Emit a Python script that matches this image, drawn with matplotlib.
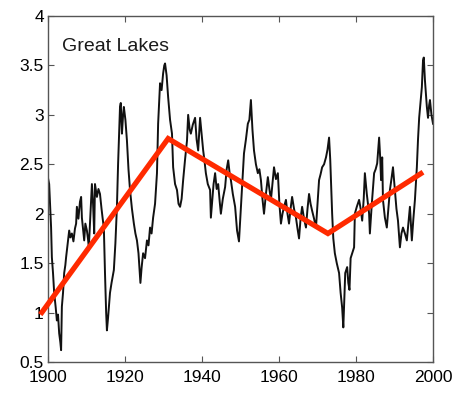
import numpy as np
import matplotlib
matplotlib.use("Agg")
import matplotlib.pyplot as plt

# Great Lakes index, read by year
years = [1900.0, 1900.3, 1900.6, 1900.8, 1901.0, 1901.3, 1901.6, 1902.0, 1902.3, 1902.6,
         1902.9, 1903.2, 1903.4, 1903.6, 1903.9, 1904.2, 1904.5, 1904.7, 1905.1, 1905.5,
         1905.8, 1906.2, 1906.6, 1907.0, 1907.3, 1907.5, 1907.9, 1908.3, 1908.6, 1908.8,
         1909.1, 1909.4, 1909.7, 1910.1, 1910.4, 1910.6, 1911.0, 1911.4, 1911.7, 1912.0,
         1912.2, 1912.5, 1912.7, 1913.1, 1913.5, 1913.9, 1914.2, 1914.5, 1914.8, 1915.1,
         1915.3, 1915.6, 1916.1, 1916.5, 1917.1, 1917.5, 1917.9, 1918.2, 1918.4, 1918.7,
         1918.9, 1919.2, 1919.5, 1919.7, 1920.1, 1920.5, 1920.9, 1921.3, 1921.8, 1922.3,
         1922.7, 1923.1, 1923.5, 1924.0, 1924.3, 1924.7, 1925.2, 1925.7, 1926.1, 1926.5,
         1926.9, 1927.3, 1927.8, 1928.3, 1928.6, 1929.1, 1929.5, 1929.9, 1930.2, 1930.4,
         1930.8, 1931.2, 1931.7, 1932.2, 1932.5, 1933.0, 1933.5, 1933.9, 1934.3, 1934.7,
         1935.1, 1935.6, 1936.1, 1936.4, 1936.8, 1937.1, 1937.6, 1938.2, 1938.6, 1939.0,
         1939.5, 1939.9, 1940.3, 1940.6, 1941.0, 1941.5, 1942.1, 1942.3, 1942.7, 1943.0,
         1943.4, 1943.8, 1944.2, 1944.6, 1944.9, 1945.4, 1946.0, 1946.4, 1946.8, 1947.2,
         1947.5, 1948.0, 1948.6, 1949.1, 1949.6, 1950.1, 1950.5, 1950.9, 1951.4, 1951.9,
         1952.3, 1952.7, 1953.1, 1953.5, 1954.0, 1954.5, 1954.9, 1955.3, 1955.7, 1956.1,
         1956.6, 1957.1, 1957.5, 1957.9, 1958.3, 1958.7, 1959.2, 1959.7, 1960.1, 1960.5,
         1960.9, 1961.3, 1961.8, 1962.2, 1962.6, 1963.0, 1963.4, 1963.9, 1964.4, 1964.8,
         1965.2, 1965.6, 1966.0, 1966.5, 1967.0, 1967.4, 1967.8, 1968.2, 1968.6, 1969.1,
         1969.6, 1970.0, 1970.4, 1970.8, 1971.2, 1971.7, 1972.2, 1972.6, 1973.0, 1973.3,
         1973.5, 1973.8, 1974.1, 1974.5, 1975.0, 1975.6, 1976.0, 1976.4, 1976.7, 1977.0,
         1977.2, 1977.7, 1978.0, 1978.3, 1978.6, 1979.0, 1979.5, 1979.7, 1980.2, 1980.8,
         1981.2, 1981.6, 1982.0, 1982.3, 1982.8, 1983.4, 1983.6, 1984.1, 1984.7, 1985.1,
         1985.5, 1986.0, 1986.3, 1986.5, 1986.8, 1987.0, 1987.5, 1988.0, 1988.4, 1988.8,
         1989.2, 1989.6, 1990.1, 1990.5, 1990.9, 1991.4, 1991.8, 1992.2, 1992.7, 1993.2,
         1993.6, 1994.0, 1994.5, 1994.9, 1995.3, 1995.8, 1996.1, 1996.4, 1996.8, 1997.1,
         1997.4, 1997.6, 1997.9, 1998.4, 1998.7, 1999.0, 1999.2, 1999.6, 2000.0]
index = [2.36, 2.30, 2.05, 1.86, 1.56, 1.40, 1.20, 1.05, 0.92, 0.98,
         0.79, 0.70, 0.62, 1.06, 1.20, 1.40, 1.48, 1.56, 1.70, 1.83,
         1.76, 1.80, 1.72, 1.85, 1.90, 2.07, 1.95, 2.12, 2.17, 1.96,
         1.85, 1.73, 1.90, 1.83, 1.74, 1.66, 1.98, 2.30, 2.10, 1.80,
         2.30, 2.22, 2.17, 2.25, 2.20, 2.05, 1.95, 1.86, 1.40, 1.00,
         0.82, 0.95, 1.20, 1.30, 1.43, 1.70, 2.07, 2.50, 2.74, 3.08,
         3.12, 2.81, 3.00, 3.08, 2.95, 2.74, 2.45, 2.24, 2.05, 1.90,
         1.80, 1.73, 1.60, 1.30, 1.45, 1.60, 1.55, 1.73, 1.68, 1.86,
         1.80, 1.96, 2.10, 2.41, 2.91, 3.32, 3.25, 3.42, 3.50, 3.52,
         3.40, 3.18, 2.95, 2.81, 2.47, 2.30, 2.24, 2.10, 2.07, 2.15,
         2.34, 2.55, 2.74, 3.00, 2.85, 2.81, 2.90, 2.97, 2.75, 2.64,
         2.97, 2.80, 2.64, 2.55, 2.41, 2.30, 2.24, 1.96, 2.15, 2.30,
         2.41, 2.25, 2.30, 2.12, 2.00, 2.15, 2.27, 2.45, 2.54, 2.40,
         2.34, 2.20, 2.07, 1.83, 1.72, 2.07, 2.35, 2.61, 2.75, 2.91,
         2.95, 3.15, 2.85, 2.64, 2.50, 2.41, 2.45, 2.34, 2.15, 2.00,
         2.20, 2.37, 2.25, 2.14, 2.30, 2.47, 2.35, 2.41, 2.10, 1.90,
         2.00, 2.07, 2.14, 2.00, 1.90, 2.05, 2.17, 2.05, 1.96, 1.85,
         1.75, 1.95, 2.07, 1.95, 1.86, 2.05, 2.20, 2.10, 2.03, 1.95,
         1.86, 2.10, 2.34, 2.40, 2.47, 2.50, 2.57, 2.65, 2.77, 2.55,
         2.34, 2.00, 1.75, 1.60, 1.50, 1.40, 1.20, 1.05, 0.85, 1.20,
         1.40, 1.46, 1.30, 1.23, 1.55, 1.60, 1.66, 2.00, 2.07, 2.14,
         2.05, 1.93, 2.15, 2.41, 2.20, 2.00, 1.80, 2.10, 2.41, 2.45,
         2.51, 2.77, 2.55, 2.34, 2.57, 2.14, 1.96, 1.86, 2.05, 2.24,
         2.35, 2.47, 2.24, 2.05, 1.93, 1.66, 1.80, 1.86, 1.80, 1.73,
         1.90, 2.07, 1.73, 1.95, 2.14, 2.47, 2.75, 2.97, 3.15, 3.28,
         3.55, 3.58, 3.35, 3.08, 2.97, 3.10, 3.15, 3.00, 2.91]

# piecewise linear trend
trend_years = [1898.0, 1931.2, 1972.7, 1997.4]
trend_vals = [0.98, 2.76, 1.80, 2.42]

xticks = [1900, 1920, 1940, 1960, 1980, 2000]
yticks = [0.5, 1, 1.5, 2, 2.5, 3, 3.5, 4]
ytick_labels = ["0.5", "1", "1.5", "2", "2.5", "3", "3.5", "4"]

plt.rcParams['font.family'] = ['Liberation Sans', 'DejaVu Sans']

fig = plt.figure(figsize=(4.59, 3.94), dpi=100)
ax = fig.add_axes([0.1046, 0.0812, 0.8388, 0.8782])

ax.plot(years, index, color="#111111", lw=1.4)
ax.plot(trend_years, trend_vals, color="#ff2a00", lw=3.8,
        solid_capstyle="butt", solid_joinstyle="miter", clip_on=False, zorder=5)

ax.set_xlim(1900, 2000)
ax.set_ylim(0.5, 4)
ax.set_xticks(xticks)
ax.set_yticks(yticks)
ax.set_yticklabels(ytick_labels)
ax.tick_params(direction="in", length=4, width=0.8, top=True, right=True,
               labelsize=12.5, color="#555555")
ax.tick_params(axis="x", pad=6)
ax.tick_params(axis="y", pad=3)
for s in ax.spines.values():
    s.set_color("#555555")
    s.set_linewidth(1.0)

ax.text(0.037, 0.935, "Great Lakes", transform=ax.transAxes, fontsize=14,
        ha="left", va="top", color="#1a1a1a")

fig.savefig("out.png", dpi=100)
